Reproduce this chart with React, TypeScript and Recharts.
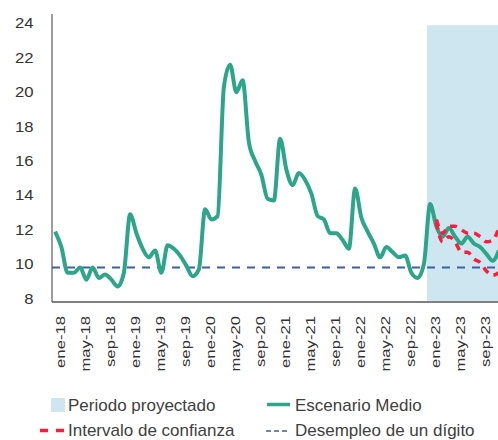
import React from "react";
import { ComposedChart, Line, XAxis, YAxis, ReferenceArea, ReferenceLine, Legend } from "recharts";

const MESES_ABR = ["ene", "feb", "mar", "abr", "may", "jun", "jul", "ago", "sep", "oct", "nov", "dic"];
const ANIOS = ["18", "19", "20", "21", "22", "23"];
const MESES = ANIOS.flatMap((a) => MESES_ABR.map((m) => `${m}-${a}`));

// tasa de desempleo, escenario medio (ene-18 .. dic-23)
const ESCENARIO_MEDIO = [
  12.1, 11.2, 9.7, 9.7, 10.0, 9.3, 10.0, 9.4, 9.6, 9.3, 8.9, 9.7,
  13.1, 12.0, 11.1, 10.6, 11.0, 9.7, 11.3, 11.1, 10.7, 10.1, 9.5, 9.9,
  13.4, 12.8, 13.0, 20.5, 21.8, 20.2, 20.9, 17.3, 16.2, 15.4, 14.0, 13.9,
  17.5, 15.7, 14.8, 15.5, 15.1, 14.3, 13.0, 12.8, 12.0, 12.0, 11.6, 11.1,
  14.6, 12.9, 12.1, 11.4, 10.6, 11.2, 10.9, 10.6, 10.7, 9.7, 9.4, 10.2,
  13.7, 12.4, 11.8, 12.3, 11.8, 11.4, 11.8, 11.4, 11.2, 10.8, 10.4, 11.0,
];

// intervalo de confianza 2023 (ene..dic)
const INTERVALO_SUP = [null, 12.8, 12.0, 12.4, 12.4, 12.2, 12.0, 12.0, 11.8, 11.5, 11.6, 12.3];
const INTERVALO_INF = [null, 12.6, 11.5, 11.8, 11.5, 10.9, 10.9, 10.5, 10.3, 9.8, 9.55, 9.7];

const Y_TICKS = [8, 10, 12, 14, 16, 18, 20, 22, 24];
const UMBRAL = 10;
const INICIO_PROY = "ene-23";
const FIN_PROY = "dic-23";

const data = MESES.map((mes, i) => ({
  mes,
  medio: ESCENARIO_MEDIO[i],
  sup: i >= 60 ? INTERVALO_SUP[i - 60] : null,
  inf: i >= 60 ? INTERVALO_INF[i - 60] : null,
}));

const FONT = "'Liberation Sans', Arial, sans-serif";
const VERDE = "#2ca58b";
const ROJO = "#fa1e3c";
const AZUL = "#3f5f9f";
const CELESTE = "#cde6f0";

const XTick = ({ x, y, payload }: any) => (
  <text
    transform={`translate(${x + 10},${y + 14}) rotate(-90) scale(1.39,1)`}
    textAnchor="end"
    fontSize={12}
    fontFamily={FONT}
    fill="#333"
  >
    {payload.value}
  </text>
);

const YTick = ({ y, payload }: any) => (
  <text
    transform={`translate(33.5,${y - 3.5}) scale(1.15,1)`}
    textAnchor="end"
    dominantBaseline="central"
    fontSize={14.5}
    fontFamily={FONT}
    fill="#333"
  >
    {payload.value}
  </text>
);

const Leyenda = () => (
  <svg width={498} height={60} style={{ display: "block" }}>
    <rect x={51} y={18} width={14} height={14} fill={CELESTE} />
    <text x={68} y={30.7} fontSize={17} fontFamily={FONT} fill="#404040">Periodo proyectado</text>
    <line x1={267} x2={290} y1={24.5} y2={24.5} stroke={VERDE} strokeWidth={3.5} />
    <text x={295} y={30.7} fontSize={17} fontFamily={FONT} fill="#404040">Escenario Medio</text>
    <line x1={40} x2={65} y1={50.5} y2={50.5} stroke={ROJO} strokeWidth={3.5} strokeDasharray="8 8" />
    <text x={68} y={56} fontSize={17} fontFamily={FONT} fill="#404040">Intervalo de confianza</text>
    <line x1={266} x2={288} y1={51} y2={51} stroke={AZUL} strokeWidth={1.5} strokeDasharray="5 3" />
    <text x={295} y={56} fontSize={17} fontFamily={FONT} fill="#404040">Desempleo de un dígito</text>
  </svg>
);

export default function App() {
  return (
    <div style={{ position: "absolute", left: 0, top: 0, width: 498, height: 440, overflow: "hidden", background: "#fff" }}>
      <ComposedChart width={502} height={440} data={data} margin={{ top: 14, right: 0, left: 0, bottom: 0 }}>
        <XAxis
          dataKey="mes"
          scale="band"
          interval={3}
          tickLine={false}
          tickSize={0}
          tickMargin={0}
          height={78}
          tick={<XTick />}
          axisLine={{ stroke: "#808080", strokeWidth: 2 }}
        />
        <YAxis
          type="number"
          domain={[8, 24.75]}
          ticks={Y_TICKS}
          allowDataOverflow
          width={52}
          tickLine={false}
          tick={<YTick />}
          axisLine={{ stroke: "#5a5a5a", strokeWidth: 1.2 }}
        />
        <ReferenceArea x1={INICIO_PROY} x2={FIN_PROY} y1={8} y2={24.1} fill={CELESTE} fillOpacity={1} stroke="none" ifOverflow="visible" />
        <ReferenceLine y={UMBRAL} stroke={AZUL} strokeWidth={2} strokeDasharray="8 7" />
        <Line type="monotone" dataKey="medio" stroke={VERDE} strokeWidth={4} dot={false} isAnimationActive={false} />
        <Line type="monotone" dataKey="sup" stroke={ROJO} strokeWidth={3.5} strokeDasharray="7 6" dot={false} isAnimationActive={false} />
        <Line type="monotone" dataKey="inf" stroke={ROJO} strokeWidth={3.5} strokeDasharray="7 6" dot={false} isAnimationActive={false} />
        <Legend
          verticalAlign="bottom"
          content={<Leyenda />}
          wrapperStyle={{ left: 0, bottom: 0, width: 498, height: 60 }}
        />
      </ComposedChart>
    </div>
  );
}
